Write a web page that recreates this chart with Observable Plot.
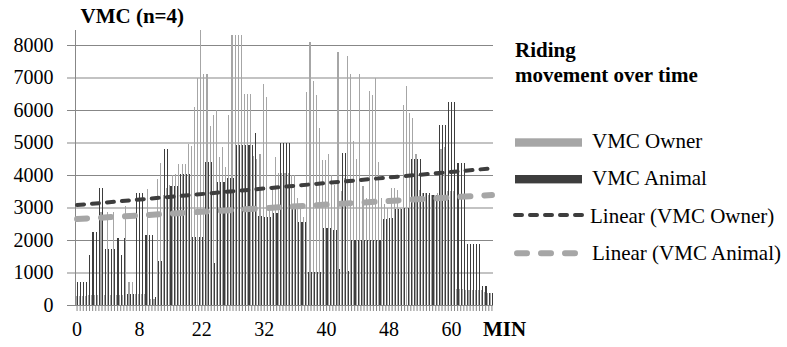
<!DOCTYPE html>
<html>
<head>
<meta charset="utf-8">
<script src="https://cdn.jsdelivr.net/npm/d3@7"></script>
<script src="https://cdn.jsdelivr.net/npm/@observablehq/plot@0.6"></script>
<style>
  html, body { margin: 0; padding: 0; background: #fff; }
  #chart { width: 787px; height: 347px; }
  #chart svg text { font-family: 'Liberation Serif', 'Times New Roman', serif; }
</style>
</head>
<body>
<div id="chart"></div>
<script>
// VMC per sample, owner and animal (n = 4 riders)
const owner = [270,270,270,270,300,300,300,300,2870,300,
  2850,300,2850,300,300,300,3050,700,700,330,
  330,350,350,3570,200,200,3870,4360,3400,3600,
  3700,4000,4030,4350,4350,4350,4950,4900,6100,7000,
  8450,7100,7100,5500,5850,6000,4550,4850,4250,5850,
  8300,8300,8300,8300,6500,6500,6500,4600,4500,4650,
  6800,6400,3000,3600,4550,4050,4050,4050,4050,4000,4000,3300,3000,2700,
  6550,8100,6900,6450,5450,4450,4450,4650,4000,3700,
  7800,3500,3900,7650,7100,5050,4500,7100,3650,3300,
  6600,6450,7000,4400,3300,3100,3000,3600,3600,3550,
  3000,6150,6750,5900,5750,4650,3550,3450,3450,3400,
  3400,3400,3450,4800,4850,3500,3500,3500,500,500,
  500,460,460,460,460,460,450,400,380,380];

const animal = [700,700,700,700,1550,2260,2260,3600,3600,1720,
  1720,1720,1720,2060,1550,2060,350,350,350,3450,
  3450,3450,2160,2160,2160,250,1350,1350,4800,4800,
  3650,3650,3650,4020,4020,4020,4020,2080,2080,2080,
  2080,4400,4400,4400,1300,3780,3780,3780,3900,3900,
  3900,4920,4920,4920,4920,4920,4920,5300,2750,2750,
  2700,2700,2720,2820,2820,4980,4980,4980,4980,3000,3000,2560,2560,2560,
  1020,1020,1020,1020,1020,2360,2360,2360,2300,2300,
  1100,4670,4670,1050,2000,2000,2000,2000,2000,2000,
  2000,2000,2000,2000,2640,2640,2670,2670,2950,2950,
  2950,2980,3000,4500,4500,4500,4500,3450,3450,3450,
  3400,3400,5540,5540,5540,6260,6260,6260,4380,4380,
  4380,1870,1870,1870,1870,1870,600,600,360,360];

// Linear trend values at the first and last sample
const ownerTrend = [3090, 4220];
const animalTrend = [2660, 3400];

// Minute labels shown along the x axis and the samples they sit under
const minuteLabels = ["0", "8", "22", "32", "40", "48", "60"];
const labelSamples = [0, 20, 40, 60, 80, 100, 120];

const yTicks = [0, 1000, 2000, 3000, 4000, 5000, 6000, 7000, 8000];

const W = 787, H = 347;
const mL = 75, mR = 294, mT = 30, mB = 42;
const n = owner.length;
const samples = d3.range(n);
const bw = (W - mL - mR) / n;
const labelOf = new Map(labelSamples.map((s, k) => [s, minuteLabels[k]]));

const rows = samples.map(i => ({i, owner: owner[i], animal: animal[i]}));
const ownerLine = [{i: 0, v: ownerTrend[0]}, {i: n - 1, v: ownerTrend[1]}];
const animalLine = [{i: 0, v: animalTrend[0]}, {i: n - 1, v: animalTrend[1]}];

const FONT = "'Liberation Serif', 'Times New Roman', serif";
const GRID = "#878787";
const OWNER = "#a6a6a6";
const ANIMAL = "#3d3d3d";

const chart = Plot.plot({
  width: W, height: H,
  marginLeft: mL, marginRight: mR, marginTop: mT, marginBottom: mB,
  style: {fontFamily: FONT, fontSize: "20px", color: "#000", background: "#fff"},
  x: {type: "band", domain: samples, padding: 0, round: false},
  y: {domain: [0, 8462]},
  marks: [
    Plot.gridY({ticks: yTicks, stroke: GRID, strokeOpacity: 1, strokeWidth: 1}),
    Plot.barY(rows, {x: "i", y: "owner", fill: OWNER, insetLeft: 0.45, insetRight: bw - 1.55, shapeRendering: "crispEdges"}),
    Plot.barY(rows, {x: "i", y: "animal", fill: ANIMAL, insetLeft: 1.85, insetRight: bw - 2.95, shapeRendering: "crispEdges"}),
    Plot.ruleX([0], {dx: -bw / 2, stroke: GRID, strokeWidth: 1}),
    Plot.axisY({ticks: yTicks, tickSize: 8, tickPadding: 14, stroke: GRID, fill: "#000", fontSize: 20, fontFamily: FONT, label: null, tickFormat: d => String(d)}),
    Plot.axisX({ticks: samples, tickSize: 6, tickPadding: 10, stroke: GRID, fill: "#000", fontSize: 20, fontFamily: FONT, label: null,
      tickFormat: i => labelOf.get(i) ?? ""}),
    Plot.line(animalLine, {x: "i", y: "v", stroke: OWNER, strokeWidth: 6, strokeDasharray: "10,14", strokeLinecap: "round"}),
    Plot.line(ownerLine, {x: "i", y: "v", stroke: ANIMAL, strokeWidth: 4, strokeDasharray: "7,8", strokeLinecap: "round"})
  ]
});

document.getElementById("chart").appendChild(chart);

// Titles, axis name and legend
const svg = d3.select(chart);
const g = svg.append("g").attr("font-family", FONT).attr("fill", "#000").attr("text-anchor", "start");

g.append("text").attr("x", 80.5).attr("y", 23.3).attr("font-size", 21).attr("font-weight", "bold").text("VMC (n=4)");
g.append("text").attr("x", 483).attr("y", 336).attr("font-size", 21).attr("font-weight", "bold").text("MIN");
g.append("text").attr("x", 515).attr("y", 56.7).attr("font-size", 21).attr("font-weight", "bold").text("Riding");
g.append("text").attr("x", 515).attr("y", 81.7).attr("font-size", 21).attr("font-weight", "bold").text("movement over time");

const legend = [
  {label: "VMC Owner", kind: "bar", color: OWNER, y: 142.5, tx: 592, ty: 148.3},
  {label: "VMC Animal", kind: "bar", color: ANIMAL, y: 179.2, tx: 592, ty: 185},
  {label: "Linear (VMC Owner)", kind: "dark", color: ANIMAL, y: 215, tx: 590, ty: 222.5},
  {label: "Linear (VMC Animal)", kind: "light", color: OWNER, y: 253.3, tx: 592, ty: 260}
];
for (const d of legend) {
  if (d.kind === "bar") {
    g.append("rect").attr("x", 515).attr("y", d.y - 4.2).attr("width", 67).attr("height", 8.4).attr("fill", d.color);
  } else if (d.kind === "dark") {
    g.append("line").attr("x1", 515).attr("x2", 584).attr("y1", d.y).attr("y2", d.y)
      .attr("stroke", d.color).attr("stroke-width", 4).attr("stroke-dasharray", "7,8").attr("stroke-linecap", "round");
  } else {
    g.append("line").attr("x1", 517).attr("x2", 576).attr("y1", d.y).attr("y2", d.y)
      .attr("stroke", d.color).attr("stroke-width", 6).attr("stroke-dasharray", "10,14").attr("stroke-linecap", "round");
  }
  g.append("text").attr("x", d.tx).attr("y", d.ty).attr("font-size", 21).text(d.label);
}
</script>
</body>
</html>
